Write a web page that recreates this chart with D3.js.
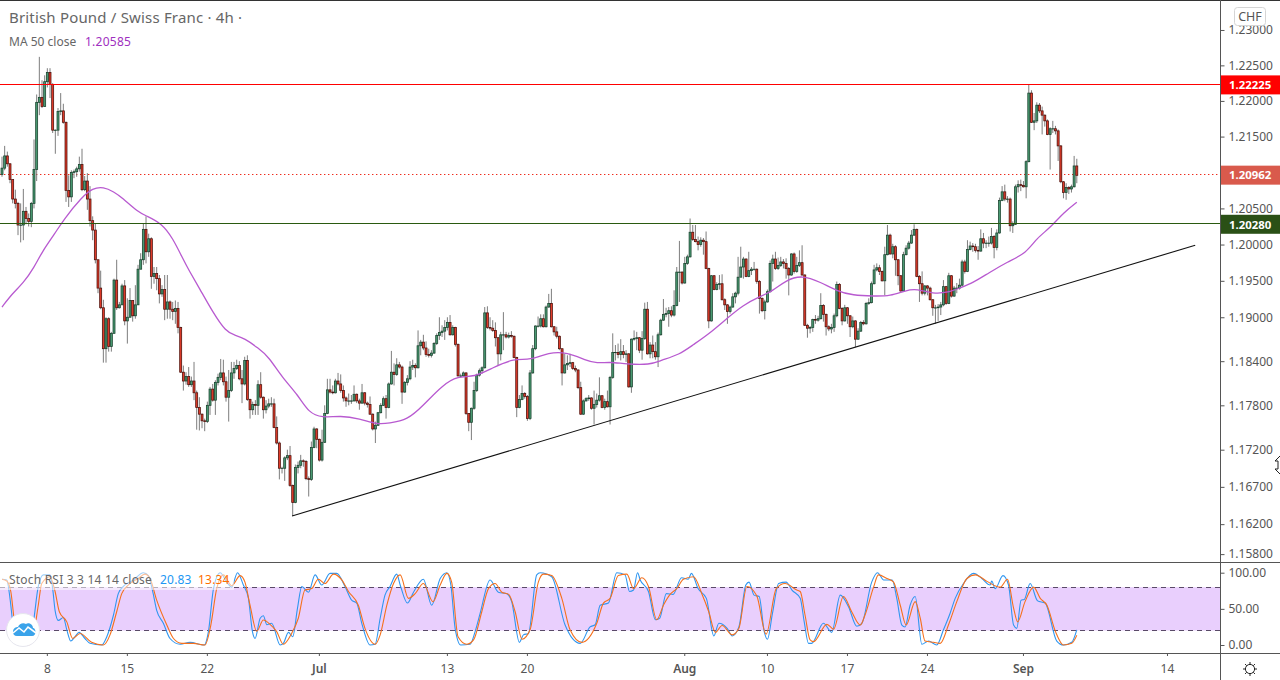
<!DOCTYPE html>
<html><head><meta charset="utf-8"><title>GBPCHF</title>
<script src="https://cdn.jsdelivr.net/npm/d3@7/dist/d3.min.js"></script>
<style>
html,body{margin:0;padding:0;background:#fff;overflow:hidden}
svg{display:block}
text{font-family:"Noto Sans",sans-serif}
</style></head><body>
<svg id="c" width="1280" height="680"></svg>
<script>
// Prices in 1/10000 of a franc; one entry per 4h candle.
const firstOpen = 12097;
const closes = [
12106,12123,12112,12090,12063,12057,12027,12027,12046,12036,
12032,12057,12104,12198,12205,12192,12227,12240,12223,12159,
12159,12185,12186,12170,12075,12066,12100,12101,12105,12111,
12076,12088,12063,12033,12020,11979,11940,11913,11857,11898,
11860,11878,11951,11913,11917,11943,11895,11900,11923,11902,
11917,11966,11979,12021,11990,12008,11956,11960,11953,11932,
11938,11911,11921,11911,11908,11912,11886,11825,11813,11819,
11808,11813,11797,11777,11768,11759,11758,11780,11802,11787,
11811,11818,11824,11812,11791,11800,11824,11830,11834,11816,
11809,11841,11788,11774,11781,11780,11808,11791,11774,11779,
11782,11782,11750,11729,11695,11695,11709,11712,11672,11649,
11696,11699,11705,11704,11681,11680,11723,11748,11734,11706,
11730,11769,11801,11798,11797,11813,11809,11800,11790,11786,
11786,11786,11795,11786,11783,11797,11783,11781,11768,11748,
11753,11770,11780,11789,11777,11809,11825,11822,11835,11832,
11798,11811,11816,11832,11834,11831,11861,11866,11858,11849,
11848,11851,11864,11875,11879,11881,11886,11893,11876,11886,
11863,11820,11820,11824,11769,11757,11776,11800,11821,11827,
11831,11906,11886,11885,11882,11872,11850,11876,11876,11873,
11875,11874,11845,11777,11788,11796,11792,11762,11824,11857,
11888,11888,11898,11887,11914,11919,11887,11880,11874,11857,
11824,11835,11837,11838,11830,11828,11804,11768,11786,11789,
11790,11776,11781,11787,11793,11777,11785,11778,11818,11852,
11852,11849,11853,11849,11850,11805,11870,11871,11872,11855,
11871,11911,11850,11862,11853,11846,11876,11896,11904,11905,
11909,11903,11916,11962,11962,11947,11974,11983,12017,12007,
12004,12000,12006,12004,11967,11895,11957,11938,11945,11946,
11924,11917,11908,11914,11928,11933,11955,11969,11980,11956,
11964,11966,11966,11949,11926,11909,11921,11935,11974,11980,
11967,11971,11976,11974,11967,11958,11987,11963,11971,11975,
11958,11889,11885,11886,11897,11896,11898,11916,11904,11887,
11884,11886,11902,11945,11912,11895,11913,11902,11887,11895,
11870,11881,11893,11891,11919,11920,11946,11965,11968,11963,
11950,11986,12013,11987,11997,11979,11957,11936,11986,11995,
12002,12013,12021,11956,11946,11933,11943,11940,11924,11913,
11913,11914,11917,11942,11919,11957,11929,11940,11940,11944,
11976,11963,11993,11998,11997,11992,11991,12008,12002,12002,
12002,12011,11996,12016,12061,12073,12063,12063,12026,12028,
12080,12083,12082,12080,12115,12211,12170,12172,12194,12186,
12180,12172,12153,12161,12161,12158,12137,12087,12072,12079,
12077,12080,12109,12096];
const highs = [
12122,12137,12129,12113,12090,12076,12059,12057,12077,12052,
12043,12059,12146,12209,12262,12229,12236,12246,12246,12225,
12160,12190,12211,12196,12171,12096,12103,12104,12108,12122,
12133,12095,12099,12081,12039,12029,11978,11964,11924,11900,
11900,11880,11953,11979,11921,11946,11951,11926,11940,11923,
11944,11972,11988,12029,12039,12015,12010,11969,11969,11958,
11944,11958,11958,11923,11921,11923,11921,11887,11834,11825,
11832,11819,11839,11800,11791,11769,11762,11785,11805,11809,
11814,11823,11843,11842,11819,11828,11839,11839,11842,11840,
11828,11846,11848,11789,11785,11787,11814,11825,11792,11787,
11789,11791,11789,11765,11731,11697,11711,11720,11725,11673,
11700,11704,11713,11707,11706,11684,11731,11751,11749,11735,
11747,11780,11816,11816,11807,11816,11824,11822,11807,11792,
11796,11794,11807,11796,11789,11809,11798,11785,11792,11769,
11758,11771,11783,11792,11794,11811,11854,11837,11844,11839,
11834,11813,11821,11840,11842,11837,11882,11869,11876,11867,
11857,11855,11866,11878,11900,11889,11896,11900,11903,11889,
11887,11864,11823,11826,11825,11769,11777,11812,11823,11830,
11833,11914,11915,11900,11896,11893,11873,11880,11907,11880,
11879,11881,11875,11846,11794,11807,11798,11794,11828,11862,
11889,11901,11904,11904,11916,11932,11939,11888,11887,11875,
11857,11850,11848,11850,11839,11834,11829,11812,11788,11791,
11794,11791,11800,11796,11818,11794,11789,11800,11820,11878,
11862,11864,11870,11862,11855,11851,11871,11882,11880,11873,
11881,11920,11921,11866,11875,11866,11879,11898,11925,11913,
11914,11915,11937,11969,12005,11963,11983,11986,12036,12027,
12027,12011,12010,12009,12018,11968,11958,11958,11948,11958,
11959,11926,11918,11916,11933,11935,11983,11997,11983,11981,
11990,11969,11976,11967,11951,11927,11924,11938,11978,11986,
11990,11982,11983,11980,11981,11969,11988,11989,11983,11992,
11999,11959,11891,11888,11898,11903,11902,11933,11918,11905,
11889,11891,11905,11949,11947,11914,11917,11914,11903,11901,
11896,11885,11895,11896,11921,11926,11949,11972,11974,11972,
11964,11997,12027,12015,12001,11999,11980,11958,11990,11999,
12005,12020,12028,12022,11958,11963,11944,11944,11942,11925,
11917,11918,11921,11951,11943,11961,11958,11943,11947,11953,
11979,11979,12006,12004,12002,12001,11998,12021,12016,12006,
12011,12023,12013,12021,12065,12081,12083,12067,12065,12032,
12083,12089,12090,12088,12117,12223,12215,12183,12198,12197,
12192,12181,12174,12163,12172,12165,12160,12138,12088,12085,
12081,12083,12123,12119];
const lows = [
12094,12103,12108,12085,12057,12050,12013,12003,12006,12028,
12025,12024,12050,12088,12180,12190,12192,12219,12204,12155,
12126,12151,12180,12168,12059,12052,12059,12092,12094,12101,
12074,12074,12048,12025,12006,11974,11933,11911,11838,11838,
11853,11853,11878,11910,11912,11917,11889,11864,11900,11894,
11898,11917,11966,11972,11974,11983,11939,11946,11937,11919,
11928,11896,11898,11898,11896,11891,11878,11824,11800,11808,
11805,11805,11787,11747,11746,11749,11745,11756,11767,11785,
11767,11807,11814,11807,11785,11758,11798,11816,11828,11814,
11783,11807,11786,11762,11767,11767,11767,11789,11762,11769,
11776,11778,11749,11727,11680,11688,11678,11706,11670,11631,
11648,11688,11695,11697,11679,11657,11678,11722,11722,11704,
11704,11729,11768,11796,11795,11796,11807,11797,11785,11778,
11780,11782,11785,11783,11774,11782,11780,11777,11767,11746,
11729,11752,11769,11779,11762,11776,11808,11807,11820,11830,
11782,11797,11807,11814,11828,11818,11830,11848,11855,11846,
11845,11845,11850,11862,11869,11873,11869,11882,11875,11875,
11860,11819,11818,11819,11767,11745,11733,11774,11798,11819,
11823,11830,11884,11882,11880,11860,11834,11841,11855,11871,
11871,11872,11844,11764,11776,11787,11789,11759,11760,11823,
11855,11886,11886,11886,11886,11913,11886,11875,11871,11855,
11807,11823,11828,11832,11828,11825,11802,11767,11767,11785,
11786,11774,11754,11777,11785,11776,11774,11777,11754,11816,
11841,11844,11841,11844,11839,11804,11797,11868,11855,11851,
11842,11869,11849,11844,11844,11842,11832,11875,11895,11900,
11887,11900,11901,11915,11921,11945,11946,11972,11982,12005,
12003,11992,11997,11986,11966,11885,11894,11937,11937,11938,
11923,11910,11891,11905,11913,11919,11930,11955,11953,11955,
11955,11958,11964,11946,11905,11907,11897,11920,11934,11949,
11965,11965,11969,11967,11953,11930,11957,11960,11961,11969,
11957,11888,11872,11878,11880,11891,11894,11897,11894,11875,
11881,11878,11880,11900,11911,11889,11894,11891,11873,11885,
11859,11869,11880,11889,11890,11917,11919,11945,11963,11958,
11949,11930,11985,11986,11981,11957,11944,11935,11935,11985,
11993,12001,12012,11955,11921,11930,11930,11930,11923,11902,
11891,11895,11903,11915,11917,11918,11927,11928,11933,11938,
11942,11960,11962,11992,11990,11989,11979,11990,11995,11995,
11997,12000,11981,11992,12015,12060,12060,12058,12018,12016,
12027,12072,12074,12079,12064,12114,12169,12159,12169,12183,
12153,12164,12152,12104,12155,12153,12116,12085,12064,12062,
12070,12072,12079,12085];

// MA 50: candle number, value
const maIndex = [0,4,8,12,15,20,23,30,34,38,42,45,51,54,60,64,68,70,74,79,84,87,91,96,100,105,111,115,120,127,134,141,145,152,158,165,171,177,184,192,198,205,212,219,223,228,234,243,247,254,259,265,272,278,284,289,294,300,307,313,319,327,333,339,343,349,355,359,364,370,377,384,388,393,398,403];
const maValue = [11914,11933,11947,11968,11990,12016,12034,12066,12078,12080,12073,12065,12045,12040,12029,12009,11979,11965,11940,11907,11880,11876,11871,11858,11846,11818,11794,11770,11763,11766,11762,11754,11756,11760,11780,11807,11820,11818,11831,11844,11841,11852,11852,11841,11837,11839,11836,11835,11841,11849,11862,11877,11899,11917,11928,11936,11951,11958,11948,11936,11930,11929,11929,11937,11939,11932,11934,11940,11947,11961,11976,11988,12009,12023,12044,12058.5];

// Stoch RSI %K
const kIndex = [0,1.8,3,4,5.3,6.8,8,9.9,11.8,13.6,15.5,18,19,19.9,21.1,23,24.3,25.8,27.4,28.9,31.1,33,37.4,39.3,41.8,43.6,45.5,49.3,53,54.9,56.5,58,60.5,63,66.8,70.5,75.8,77.4,79.3,81.8,84.3,86.1,88.3,90.5,92.4,93.9,94.9,96.8,98,99.3,101.1,104.3,105.5,107.4,109,110.8,112.4,114.9,117.4,119.9,123,125.5,128.6,131.1,133,134.9,138,139.9,141.8,143.6,145.5,148,
149.3,152,154.3,158,161.1,164.3,166.8,168.3,169.9,172,175.5,177.4,179.3,183,186.1,189.3,191.1,194,195.5,197.4,200.5,201.8,206.1,211.1,216.8,220.5,222.4,224.3,227.4,230.5,233.6,235.3,236.8,238.3,239.3,242.4,245,246.6,249.1,251.6,254.8,257.3,258.5,261,264.1,266.9,268.8,271.9,273.8,276.3,278.9,280.1,282,283.9,285.8,287,288.9,291.2,294,296.2,
299.3,300.8,302.4,303.6,308,311.1,314.3,317.4,320.5,322.4,326.1,328.3,330.6,333.8,335.5,337.4,338.6,340.5,342.4,344.9,347.4,350.5,353,355.5,357.4,360.5,364.3,367.4,370.5,371.1,372.4,375.3,377.4,379.3,380.5,382.1,383.3,385.5,388.3,391.1,395.5,398,401.1,403];
const kValue = [91,90,64.5,32,2.3,0,0,0,32,81,97,97,78,48,34,38,21,5.5,11.5,17.5,9,2.3,0,11.5,41.5,71,81,90,100,96,74,48,30,9,1,3.7,0,18.5,78,100,87,80,100,83,64.5,18.5,9,37,40.5,28,30,0,2.3,17.5,11.5,51,81,73,97,83,99,99,81,62,58,30,0,1,37,69,81,98,
83,58,73,91,55,92,100,83,23,0,1,18.5,44,90,73,71,60,3.7,14,16,97,100,94.5,28,2.3,25,28,55,58,100,97,74,76,100,90,74,35,37,71,70,93,91,99,78,64.5,12.5,30,23,12.5,25,83,87,69,67,18.5,8,44,85,87,76,
64.5,32,2.3,2.3,30,17.5,69,53,26,30,87,100,90,90,64.5,27.6,25,55,67,1,5.5,0,21,44,64.5,85,99,92,83,88.5,78,96,83,27.6,23,62,63,85,61,58,5.5,0,3.7,20.83];
// Stoch RSI %D
const dIndex = [0,1.8,3.3,4.5,6.1,9.9,11.8,13.6,14.9,18,19.9,21.5,24.3,26.5,29.3,33.6,38,40.5,43,44.9,47.4,51.1,53.6,55.5,58,61.8,64.3,67.4,71.8,76.1,78.3,80.5,83,86.1,89.3,91.1,93,95.5,98,100.5,103,105.5,108.6,111.1,113.6,116.1,118.6,121.1,124.3,127.4,129.9,133.6,136.1,139.9,141.8,144.3,146.8,
149.3,152.4,154.9,158,161.6,164.3,166.8,168.6,171,174.3,176.8,179.9,182.4,184.9,187.4,190,192.4,195,198,201.1,203,206.1,209.9,213,217.4,223,225.5,228,231.1,234.3,236.8,239.9,242.4,245.5,248,250.5,253,255.5,259.3,262.4,265,267.5,270,273.8,276.3,279.3,283,286.5,290.3,293.6,298,
299.3,301.1,303,304.3,309.3,311.8,315.5,318.6,321.8,323.6,326.8,328.6,331.8,334.3,336.8,339,342.4,344.3,346.1,349.3,351.8,354.9,358,361.8,365,369.3,374.3,377,379.3,380.8,383.6,386.8,389.3,391.8,395,398,401.1,403];
const dValue = [91,88.5,74,37,2.3,0,14,55,85,94.5,74,46,32,9,16,3.7,0,14,46,71,83,92,98,92,62,27.6,9,2.3,2.3,0,27.6,78,97,82,96,87,55,19,34.5,28.5,18.5,1,16,37,76,78,91,85,98,90,74,55,23,1,14,55,85,
97,64.5,71,85,60,83,99,87,11.5,1,7,46,78,85,73,70,46,8,21,87,98,96,64.5,21,3.7,30,58,64.5,96,98,78,93,81,35,55,70,78,91,94.5,71,46,17.5,27,14,23,81,68,15,78,85,76,
74,41.5,7,4.6,28.5,22,67,46,27.6,41.5,80,97,92,87,55,27.6,60,37,5.5,3.7,2.3,28,60,92,97,88,80,91,51,32,60,80,64.5,55,18.5,0,2.3,13.34];

const priceTicks = [1.23,1.225,1.22,1.215,1.205,1.2,1.195,1.19,1.184,1.178,1.172,1.167,1.162,1.158];
const stochTicks = [100,50,0];
const bandLevels = [80,20];
const timeTickIndex = [17,47,77,119,167,197,256,287,317,347,383,437];
const timeTickLabel = ["8","15","22","Jul","13","20","Aug","10","17","24","Sep","14"];
const trendIndex = [108.75,447.4];
const trendPrice = [1.1631,1.1999];
const resistance = 1.22225, support = 1.2028, lastPrice = 1.20962;

const W=1280,H=680,axisX=1221,priceBottom=562,stochBottom=653;
const svg=d3.select("#c");
const x=d3.scaleLinear().domain([0,403]).range([2,1076.8]);
const y=d3.scaleLog().domain([1.23425,1.15695]).range([0,priceBottom]);
const ys=d3.scaleLinear().domain([0,100]).range([645,572.7]);
const P=v=>v/10000;
const crisp=v=>Math.floor(v-0.3)+0.5;

svg.append("defs").append("clipPath").attr("id","pane").append("rect").attr("width",axisX).attr("height",priceBottom);

const price=svg.append("g").attr("clip-path","url(#pane)");
price.append("line").attr("x1",0).attr("x2",axisX).attr("y1",crisp(y(lastPrice))).attr("y2",crisp(y(lastPrice)))
 .attr("stroke","#ee2a1c").attr("stroke-width",1).attr("stroke-dasharray","1.4 2.6");

// candles
const opens=closes.map((c,i)=>i?closes[i-1]:firstOpen);
const idx=d3.range(closes.length);
price.append("g").selectAll("line").data(idx).join("line")
 .attr("x1",i=>x(i)).attr("x2",i=>x(i))
 .attr("y1",i=>y(P(Math.max(highs[i],opens[i],closes[i]))))
 .attr("y2",i=>y(P(Math.min(lows[i],opens[i],closes[i]))))
 .attr("stroke","#6e6e6e").attr("stroke-width",0.9);
price.append("g").selectAll("rect").data(idx).join("rect")
 .attr("x",i=>x(i)-1).attr("width",2)
 .attr("y",i=>y(P(Math.max(opens[i],closes[i]))))
 .attr("height",i=>Math.max(0.3,y(P(Math.min(opens[i],closes[i])))-y(P(Math.max(opens[i],closes[i])))))
 .attr("fill",i=>closes[i]>=opens[i]?"#4a9a72":"#e23c2a")
 .attr("stroke",i=>closes[i]>=opens[i]?"#17402c":"#4a0f0a").attr("stroke-width",0.75);

// MA
price.append("path").datum(maIndex).attr("fill","none").attr("stroke","#b85ad0").attr("stroke-width",1.3)
 .attr("d",d3.line().x(k=>x(k)).y((k,i)=>y(P(maValue[i]))).curve(d3.curveBasis));

price.append("line").attr("x1",0).attr("x2",axisX).attr("y1",crisp(y(resistance))).attr("y2",crisp(y(resistance))).attr("stroke","#ff0000").attr("stroke-width",1);
price.append("line").attr("x1",0).attr("x2",axisX).attr("y1",crisp(y(support))).attr("y2",crisp(y(support))).attr("stroke","#2a5a10").attr("stroke-width",1);
price.append("line").attr("x1",x(trendIndex[0])).attr("x2",x(trendIndex[1])).attr("y1",y(trendPrice[0])).attr("y2",y(trendPrice[1])).attr("stroke","#111").attr("stroke-width",1.1);

// stoch pane
svg.append("rect").attr("x",0).attr("width",axisX).attr("y",ys(bandLevels[0])).attr("height",ys(bandLevels[1])-ys(bandLevels[0])).attr("fill","#e9cffd");
svg.selectAll(".lv").data(bandLevels).join("line").attr("x1",0).attr("x2",axisX).attr("y1",d=>Math.floor(ys(d))+.5).attr("y2",d=>Math.floor(ys(d))+.5)
 .attr("stroke","#5a4a68").attr("stroke-width",1).attr("stroke-dasharray","5 4");
svg.append("path").datum(kIndex).attr("fill","none").attr("stroke","#2f96f0").attr("stroke-width",1.1)
 .attr("d",d3.line().x(k=>x(k)).y((k,i)=>ys(kValue[i])).curve(d3.curveMonotoneX));
svg.append("path").datum(dIndex).attr("fill","none").attr("stroke","#f5701c").attr("stroke-width",1.1)
 .attr("d",d3.line().x(k=>x(k)).y((k,i)=>ys(dValue[i])).curve(d3.curveMonotoneX));

// frame
const frame="#555";
svg.append("line").attr("x1",0).attr("x2",W).attr("y1",0.5).attr("y2",0.5).attr("stroke","#333");
svg.append("line").attr("x1",0).attr("x2",W).attr("y1",priceBottom+.5).attr("y2",priceBottom+.5).attr("stroke",frame);
svg.append("line").attr("x1",0).attr("x2",W).attr("y1",stochBottom+.5).attr("y2",stochBottom+.5).attr("stroke",frame);
svg.append("line").attr("x1",axisX-.5).attr("x2",axisX-.5).attr("y1",0).attr("y2",H).attr("stroke",frame);

// axes
function styleAxis(g){g.select(".domain").remove();g.selectAll("line").attr("stroke",frame);g.selectAll("text").attr("fill","#555").attr("font-size",12).attr("font-family",'"Noto Sans",sans-serif');}
svg.append("g").attr("transform",`translate(${axisX-.5},0)`).call(d3.axisRight(y).tickValues(priceTicks).tickFormat(d3.format(".5f")).tickSize(4).tickPadding(4)).call(styleAxis);
svg.append("g").attr("transform",`translate(${axisX-.5},0)`).call(d3.axisRight(ys).tickValues(stochTicks).tickFormat(d3.format(".2f")).tickSize(4).tickPadding(4)).call(styleAxis);
svg.append("g").attr("transform",`translate(-0.5,${stochBottom})`).call(d3.axisBottom(x).tickValues(timeTickIndex).tickFormat((d,i)=>timeTickLabel[i]).tickSize(3).tickPadding(8)).call(styleAxis)
 .selectAll("text").attr("font-size",12).attr("font-weight",(d,i)=>isNaN(+timeTickLabel[i])?600:400);

// price labels
const tags=[[resistance,"#ff0000"],[lastPrice,"#d95a4c"],[support,"#2a5016"]];
tags.forEach(([v,c])=>{
 svg.append("rect").attr("x",axisX).attr("width",W-axisX).attr("y",y(v)-9.5).attr("height",19).attr("fill",c);
 svg.append("text").attr("x",1229).attr("y",y(v)+4.3).attr("fill","#fff").attr("font-size",11.4).attr("font-weight",700).text(d3.format(".5f")(v));
});

// CHF button
svg.append("rect").attr("x",1234.5).attr("y",7.5).attr("width",31).attr("height",18).attr("rx",3).attr("fill","#fff").attr("stroke","#d5d5d5");
svg.append("text").attr("x",1250).attr("y",21).attr("text-anchor","middle").attr("fill","#555").attr("font-size",12.5).text("CHF");

// legends
svg.append("text").attr("x",9).attr("y",22.5).attr("fill","#666").attr("font-size",15).attr("letter-spacing",0.18).text("British Pound / Swiss Franc · 4h ·");
const ma=svg.append("text").attr("x",9).attr("y",45.5).attr("font-size",12).attr("fill","#666");
ma.append("tspan").text("MA 50 close");
ma.append("tspan").attr("x",85).attr("fill","#a030c0").attr("letter-spacing",0.25).text("1.20585");
svg.append("rect").attr("x",0).attr("y",572).attr("width",234).attr("height",18).attr("fill","rgba(255,255,255,.55)");
const st=svg.append("text").attr("x",9).attr("y",584).attr("font-size",12).attr("fill","#666").attr("letter-spacing",0.2);
st.append("tspan").text("Stoch RSI 3 3 14 14 close");
st.append("tspan").attr("x",160).attr("fill","#2196f3").text("20.83");
st.append("tspan").attr("x",198).attr("fill","#ff6d00").text("13.34");

// logo
svg.append("circle").attr("cx",23).attr("cy",630).attr("r",16.5).attr("fill","#fff").attr("stroke","#e6e6ee");
svg.append("path").attr("fill","#3aa3ea").attr("d","M13,632 C13,628 16,627 18,627 C19,624 23,622 26,624 C28,622 33,624 33,628 C36,628 37,636 32,636 L17,636 C14,636 13,634 13,632 Z");
svg.append("path").attr("fill","none").attr("stroke","#fff").attr("stroke-width",1.6).attr("d","M13,633 L19,628 L24,632 L28,627 L36,633");

// gear
const gear=svg.append("g").attr("transform","translate(1250,669)").attr("stroke","#222").attr("fill","none");
gear.append("circle").attr("r",4.6);
d3.range(8).forEach(i=>{const a=i*Math.PI/4;gear.append("line").attr("x1",4.6*Math.cos(a)).attr("y1",4.6*Math.sin(a)).attr("x2",7*Math.cos(a)).attr("y2",7*Math.sin(a));});

// cursor at right edge
svg.append("path").attr("fill","#fff").attr("stroke","#222").attr("d","M1280,456 L1275,461 L1278,461 L1278,469 L1275,469 L1280,474");
</script>
</body></html>
